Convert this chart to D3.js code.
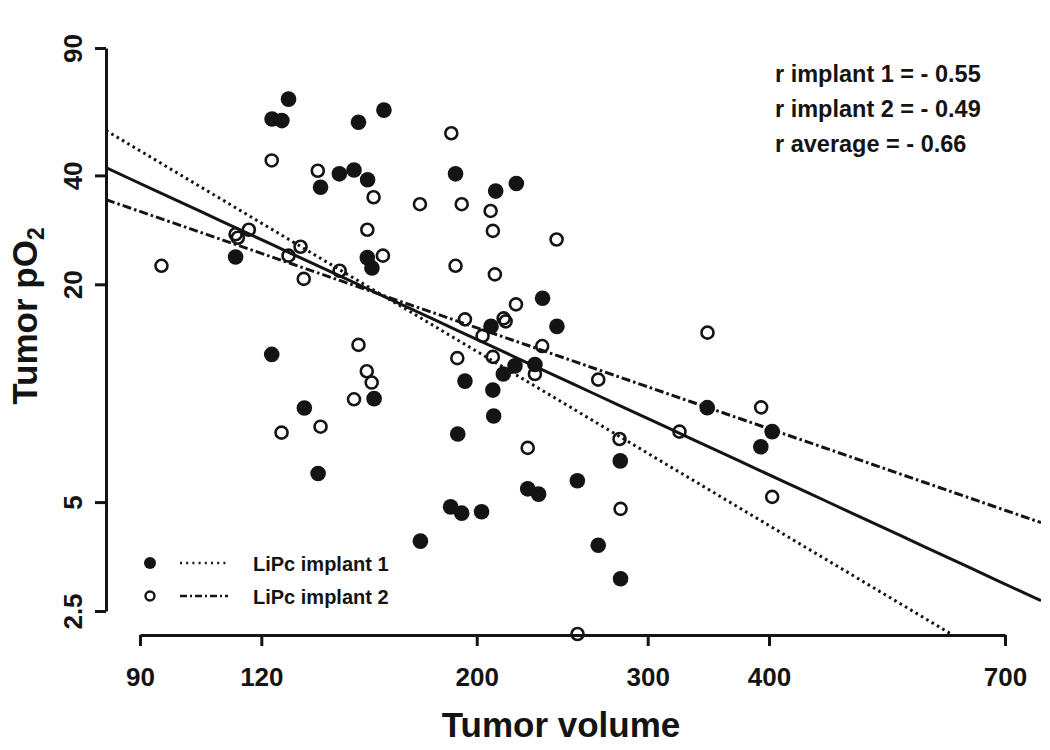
<!DOCTYPE html>
<html>
<head>
<meta charset="utf-8">
<script src="https://cdn.jsdelivr.net/npm/d3@7/dist/d3.min.js"></script>
<style>
  html, body { margin: 0; padding: 0; background: #ffffff; }
  svg { display: block; }
  text { font-family: "Liberation Sans", Arial, Helvetica, sans-serif; font-weight: bold; fill: #141414; }
</style>
</head>
<body>
<svg id="chart" width="1050" height="750"></svg>
<script>
// ---------------- data ----------------
const xTickValues = [90, 120, 200, 300, 400, 700];
const yTickValues = [2.5, 5, 20, 40, 90];

// LiPc implant 1 (filled circles): tumor volume, tumor pO2
const implant1Volume = [128.0, 123.1, 126.0, 160.5, 151.1, 144.4, 149.5, 154.4, 138.1, 112.9,
  154.3, 156.0, 123.0, 132.9, 137.3, 156.8, 175.0, 190.2, 219.7, 209.2,
  233.8, 241.9, 206.9, 219.0, 229.6, 213.0, 194.5, 207.8, 208.2, 191.2,
  188.0, 193.0, 202.3, 225.7, 231.6, 253.9, 266.8, 281.3, 281.1, 345.5,
  403.0, 392.3];
const implant1PO2 = [65.0, 57.3, 56.7, 60.6, 56.1, 40.4, 41.4, 38.9, 37.1, 23.8,
  23.7, 22.2, 12.8, 9.1, 6.0, 9.66, 3.90, 40.4, 38.0, 36.2,
  18.3, 15.3, 15.3, 11.9, 12.0, 11.3, 10.8, 10.2, 8.65, 7.71,
  4.85, 4.66, 4.70, 5.44, 5.26, 5.73, 3.80, 3.07, 6.50, 9.12,
  7.83, 7.11];

// LiPc implant 2 (open circles)
const implant2Volume = [123.0, 137.2, 156.6, 174.8, 154.3, 112.9, 116.5, 160.1, 94.7, 131.7,
  128.0, 132.7, 144.5, 188.3, 193.0, 206.7, 207.8, 241.7, 190.2, 208.8,
  219.5, 194.5, 213.2, 214.2, 202.8, 233.6, 191.0, 207.8, 229.6, 266.8,
  151.1, 154.1, 155.9, 149.5, 138.1, 125.9, 225.7, 281.3, 280.6, 254.0,
  345.7, 392.6, 323.5, 403.0, 113.5];
const implant2PO2 = [44.0, 41.2, 34.8, 33.3, 28.3, 27.5, 28.3, 24.0, 22.5, 25.4,
  24.0, 20.7, 21.8, 52.3, 33.3, 31.9, 28.1, 26.6, 22.5, 21.3,
  17.6, 16.0, 16.1, 15.8, 14.4, 13.5, 12.5, 12.6, 11.3, 10.9,
  13.6, 11.5, 10.7, 9.62, 8.08, 7.78, 7.06, 4.79, 7.47, 2.16,
  14.7, 9.14, 7.83, 5.17, 26.9];

// Regression fits in log10 space: log10(pO2) = intercept + slope * log10(volume)
const fitNames = ["implant 1", "implant 2", "average"];
const fitIntercept = [4.795, 3.314, 4.009];
const fitSlope = [-1.599, -0.927, -1.243];
const fitDash = ["2.6,3.6", "9,3,2.6,3", null];

const corrLabels = ["r implant 1 = - 0.55", "r implant 2 = - 0.49", "r average = - 0.66"];
const legendLabels = ["LiPc implant 1", "LiPc implant 2"];

// ---------------- layout ----------------
const ink = "#141414";
const svg = d3.select("#chart");
const plotLeft = 106, plotRight = 1041, plotTop = 30, plotBottom = 635;

const x = d3.scaleLog().domain([90, 700]).range([140, 1005]);
const y = d3.scaleLog().domain([2.5, 90]).range([611, 48]);

// clip for regression lines
svg.append("defs").append("clipPath").attr("id", "plotClip")
  .append("rect").attr("x", plotLeft).attr("y", plotTop)
  .attr("width", plotRight - plotLeft).attr("height", plotBottom - plotTop);

// ---------------- axes ----------------
const yAxis = d3.axisLeft(y).tickValues(yTickValues).tickSize(11).tickSizeOuter(0)
  .tickFormat(d => String(d));
const gy = svg.append("g").attr("transform", `translate(${plotLeft},0)`).call(yAxis);
gy.select(".domain").attr("stroke", ink).attr("stroke-width", 3);
gy.selectAll(".tick line").attr("stroke", ink).attr("stroke-width", 3);
gy.selectAll(".tick text")
  .attr("transform", "rotate(-90)")
  .attr("x", 0).attr("y", -24.5).attr("dy", 0)
  .attr("text-anchor", "middle")
  .style("font-size", "26px").attr("fill", ink);

const xAxis = d3.axisBottom(x).tickValues(xTickValues).tickSize(11).tickSizeOuter(0)
  .tickFormat(d => String(d));
const gx = svg.append("g").attr("transform", `translate(0,${plotBottom})`).call(xAxis);
gx.select(".domain").attr("stroke", ink).attr("stroke-width", 3);
gx.selectAll(".tick line").attr("stroke", ink).attr("stroke-width", 3);
gx.selectAll(".tick text")
  .attr("y", 51).attr("dy", 0)
  .style("font-size", "26px").attr("fill", ink);
svg.selectAll(".tick text").attr("font-family", null).attr("font-size", null);
svg.selectAll("g").filter(function () { return this.getAttribute("font-family"); })
  .attr("font-family", null).attr("font-size", null);

// axis titles
svg.append("text")
  .attr("x", 561).attr("y", 737)
  .attr("text-anchor", "middle")
  .style("font-size", "35px")
  .text("Tumor volume");

const yTitle = svg.append("text")
  .attr("transform", "translate(37,316) rotate(-90)")
  .attr("text-anchor", "middle")
  .style("font-size", "35px");
yTitle.append("tspan").text("Tumor pO");
yTitle.append("tspan").attr("dy", 7).style("font-size", "23px").text("2");

// ---------------- regression lines ----------------
const xLo = x.invert(plotLeft), xHi = x.invert(plotRight);
const lineGen = d3.line().x(d => x(d[0])).y(d => y(d[1]));
const gl = svg.append("g").attr("clip-path", "url(#plotClip)");
fitNames.forEach((name, i) => {
  const pts = d3.range(0, 41).map(k => {
    const v = Math.exp(Math.log(xLo) + (Math.log(xHi) - Math.log(xLo)) * k / 40);
    return [v, Math.pow(10, fitIntercept[i] + fitSlope[i] * Math.log10(v))];
  });
  gl.append("path").datum(pts)
    .attr("d", lineGen)
    .attr("fill", "none")
    .attr("stroke", ink)
    .attr("stroke-width", 3)
    .attr("stroke-dasharray", fitDash[i]);
});

// ---------------- points ----------------
const pts1 = implant1Volume.map((v, i) => [v, implant1PO2[i]]);
const pts2 = implant2Volume.map((v, i) => [v, implant2PO2[i]]);

svg.append("g").selectAll("circle").data(pts2).join("circle")
  .attr("cx", d => x(d[0])).attr("cy", d => y(d[1]))
  .attr("r", 6).attr("fill", "none").attr("stroke", ink).attr("stroke-width", 2.6);

svg.append("g").selectAll("circle").data(pts1).join("circle")
  .attr("cx", d => x(d[0])).attr("cy", d => y(d[1]))
  .attr("r", 7.8).attr("fill", ink);

// ---------------- correlation text ----------------
svg.append("g").selectAll("text").data(corrLabels).join("text")
  .attr("x", 775).attr("y", (d, i) => 82 + i * 35)
  .style("font-size", "23.5px")
  .text(d => d);

// ---------------- legend ----------------
const lg = svg.append("g");
const rowY = [563, 596];
lg.append("circle").attr("cx", 150).attr("cy", rowY[0]).attr("r", 6).attr("fill", ink);
lg.append("circle").attr("cx", 150).attr("cy", rowY[1]).attr("r", 4.5)
  .attr("fill", "none").attr("stroke", ink).attr("stroke-width", 2.4);
lg.append("line").attr("x1", 180).attr("x2", 228).attr("y1", rowY[0]).attr("y2", rowY[0])
  .attr("stroke", ink).attr("stroke-width", 2.4).attr("stroke-dasharray", "2,4.2");
lg.append("line").attr("x1", 180).attr("x2", 228).attr("y1", rowY[1]).attr("y2", rowY[1])
  .attr("stroke", ink).attr("stroke-width", 2.6).attr("stroke-dasharray", "7,3,2,3");
lg.selectAll("text").data(legendLabels).join("text")
  .attr("x", 253).attr("y", (d, i) => rowY[i] + 7.5)
  .style("font-size", "20px")
  .text(d => d);
</script>
</body>
</html>
